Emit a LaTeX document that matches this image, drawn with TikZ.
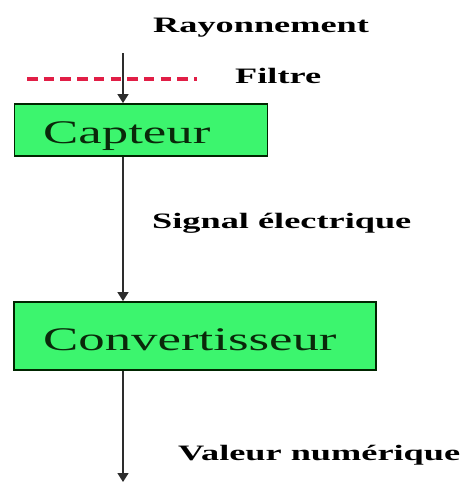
\documentclass[tikz,border=0pt]{standalone}
\usepackage{fontspec}
\setmainfont{Liberation Serif}
\newfontfamily\lblfont[FakeStretch=1.65]{Liberation Serif}
\newfontfamily\boxfont[FakeStretch=1.6]{Liberation Serif}
\usetikzlibrary{arrows.meta}
\definecolor{boxgreen}{RGB}{60,245,110}
\definecolor{filtrered}{RGB}{225,30,70}
\definecolor{linegray}{RGB}{45,45,45}
\definecolor{boxtext}{RGB}{10,40,10}
\tikzset{
  lbl/.style={anchor=base west, inner sep=0pt, font=\lblfont\bfseries\fontsize{22}{26}\selectfont},
  boxlbl/.style={anchor=base west, inner sep=0pt, text=boxtext, font=\boxfont\fontsize{33}{38}\selectfont},
  greenbox/.style={draw=black!85!green, line width=1.8pt, fill=boxgreen, inner sep=0pt},
  flow/.style={draw=linegray, line width=1.5pt, -{Triangle[width=11pt,length=9pt]}}
}
\begin{document}
\begin{tikzpicture}[x=1pt,y=-1pt]
\useasboundingbox (0,0) rectangle (472,482);
% boxes
\node[greenbox, minimum width=253pt, minimum height=52pt] (capteur) at (141,130) {};
\node[greenbox, minimum width=362pt, minimum height=68pt] (convert) at (195,336) {};
\node[boxlbl] (capteurtxt) at (43,143) {Capteur};
\node[boxlbl] (converttxt) at (43,350) {Convertisseur};
% labels
\node[lbl] (ray) at (153,32) {Rayonnement};
\node[lbl] (filtre) at (235,83) {Filtre};
\node[lbl] (signal) at (152,228) {Signal électrique};
\node[lbl] (valeur) at (178,460) {Valeur numérique};
% filter line
\coordinate (fa) at (27,79);
\coordinate (fb) at (197,79);
\draw[filtrered, line width=3.2pt, dash pattern=on 10.5pt off 6.2pt] (fa) -- (fb);
% arrows
\coordinate (top) at (123,53);
\coordinate (bottom) at (123,482);
\draw[flow] (top) -- (top |- capteur.north);
\draw[flow] (capteur.south -| top) -- (top |- convert.north);
\draw[flow] (convert.south -| top) -- (bottom);
\end{tikzpicture}
\end{document}
